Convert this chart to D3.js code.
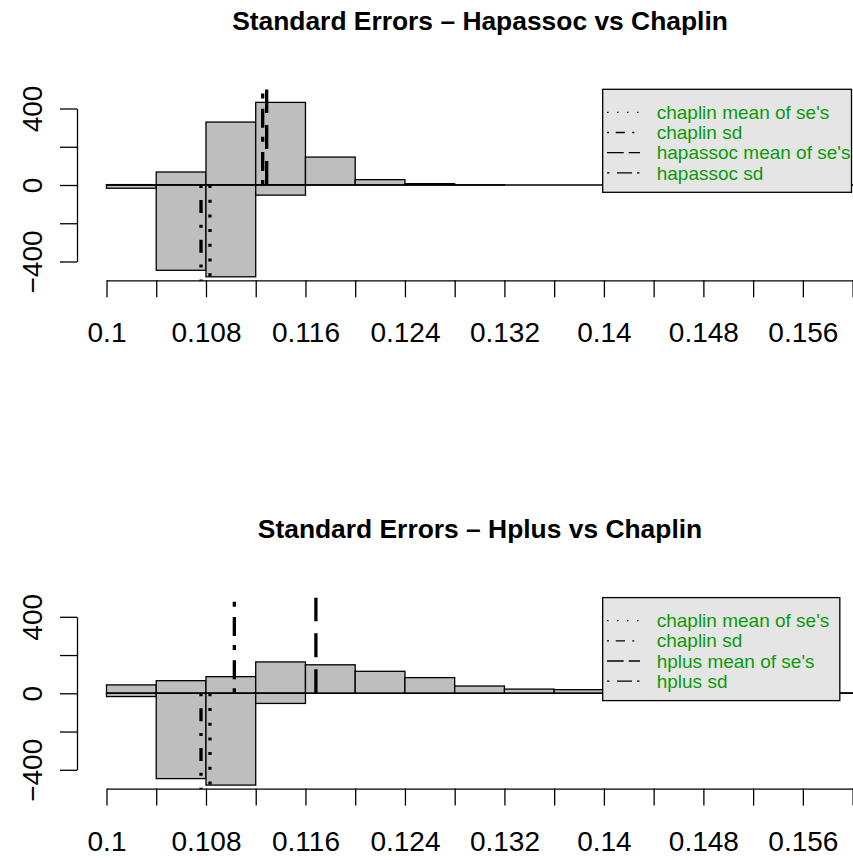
<!DOCTYPE html>
<html>
<head>
<meta charset="utf-8">
<script src="https://cdn.jsdelivr.net/npm/d3@7"></script>
<style>
  body { margin: 0; background: #fff; }
  text { font-family: "Liberation Sans", Arial, sans-serif; }
</style>
</head>
<body>
<div class="canvas"></div>
<script>
const dims = { width: 853, height: 860 };

// bin edges of the histograms (also the x ticks)
const breaks = [0.1, 0.104, 0.108, 0.112, 0.116, 0.12, 0.124, 0.128, 0.132, 0.136, 0.14, 0.144, 0.148, 0.152, 0.156, 0.16];

// counts per bin, chaplin is drawn downwards
const chaplinCounts = [17, 446, 480, 53, 0, 0, 0, 0, 0, 0, 0, 0, 0, 0, 0];
const hapassocCounts = [2, 68, 329, 432, 146, 28, 7, 1, 0, 0, 0, 0, 0, 0, 0];
const hplusCounts = [44, 66, 87, 164, 149, 115, 82, 38, 22, 19, 12, 8, 5, 3, 2];

// vertical reference lines: [mean of se's, sd]
const chaplinLines = [0.10832, 0.1076];
const hapassocLines = [0.11288, 0.11256];
const hplusLines = [0.11684, 0.11028];
const lineLength = 500;

const yTicks = [-400, -200, 0, 200, 400];
const yLabels = [-400, 0, 400];

const topLegend = ["chaplin mean of se's", "chaplin sd", "hapassoc mean of se's", "hapassoc sd"];
const bottomLegend = ["chaplin mean of se's", "chaplin sd", "hplus mean of se's", "hplus sd"];

const panels = [
  { title: "Standard Errors \u2013 Hapassoc vs Chaplin", counts: hapassocCounts, lines: hapassocLines, legend: topLegend, zero: 185 },
  { title: "Standard Errors \u2013 Hplus vs Chaplin", counts: hplusCounts, lines: hplusLines, legend: bottomLegend, zero: 693.3 },
];

// dash patterns: dotted, dotdash, dashed, twodash
const plotDash = ["3 11.7", "3 12 13 11.7", "24 12", "5 9 19 10.3"];
const keyDash = ["1.5 8.5", "2 6.7 9.3 7.3", "16.7 5", "2.5 7.5 15 5"];

const svg = d3
  .select(".canvas")
  .append("svg")
  .attr("width", dims.width)
  .attr("height", dims.height);

const x = d3.scaleLinear().domain([0.1, 0.16]).range([106.5, 852.6]);

panels.forEach((p) => {
  const y = d3.scaleLinear().domain([-400, 400]).range([p.zero + 76.5, p.zero - 76.5]);
  const g = svg.append("g");

  g.append("text")
    .attr("x", 480)
    .attr("y", p.zero - 155.5)
    .attr("text-anchor", "middle")
    .attr("font-size", 26.4)
    .attr("font-weight", "bold")
    .text(p.title);

  const bins = breaks.slice(0, -1).map((b, i) => ({
    x0: b,
    x1: breaks[i + 1],
    up: p.counts[i],
    down: chaplinCounts[i],
  }));

  // upper histogram
  g.append("g")
    .selectAll("rect")
    .data(bins)
    .join("rect")
    .attr("x", (d) => x(d.x0))
    .attr("width", (d) => x(d.x1) - x(d.x0))
    .attr("y", (d) => y(d.up))
    .attr("height", (d) => y(0) - y(d.up))
    .attr("fill", "#bebebe")
    .attr("stroke", "#000")
    .attr("stroke-width", 1.3);

  // mirrored chaplin histogram
  g.append("g")
    .selectAll("rect")
    .data(bins)
    .join("rect")
    .attr("x", (d) => x(d.x0))
    .attr("width", (d) => x(d.x1) - x(d.x0))
    .attr("y", y(0))
    .attr("height", (d) => y(-d.down) - y(0))
    .attr("fill", "#bebebe")
    .attr("stroke", "#000")
    .attr("stroke-width", 1.3);

  // empty bins still show as a line at zero
  g.append("line")
    .attr("x1", x(breaks[0]))
    .attr("x2", x(breaks[breaks.length - 1]) + 2)
    .attr("y1", y(0))
    .attr("y2", y(0))
    .attr("stroke", "#000")
    .attr("stroke-width", 1.5);

  const vlines = [
    { v: chaplinLines[0], end: -lineLength, dash: plotDash[0] },
    { v: chaplinLines[1], end: -lineLength, dash: plotDash[1] },
    { v: p.lines[0], end: lineLength, dash: plotDash[2] },
    { v: p.lines[1], end: lineLength, dash: plotDash[3] },
  ];

  g.append("g")
    .selectAll("line")
    .data(vlines)
    .join("line")
    .attr("x1", (d) => x(d.v))
    .attr("x2", (d) => x(d.v))
    .attr("y1", y(0))
    .attr("y2", (d) => y(d.end))
    .attr("stroke", "#000")
    .attr("stroke-width", 3.3)
    .attr("stroke-dasharray", (d) => d.dash);

  // x axis
  const xAxis = g
    .append("g")
    .attr("transform", `translate(0,${p.zero + 95.3})`)
    .call(
      d3
        .axisBottom(x)
        .tickValues(breaks)
        .tickSize(17)
        .tickSizeOuter(0)
        .tickFormat((d, i) => (i % 2 === 0 ? d3.format("~g")(d) : ""))
    );
  xAxis.attr("font-family", null).attr("font-size", 28);
  xAxis.selectAll("path, line").attr("stroke-width", 1.3);
  xAxis.selectAll("text").attr("y", 62).attr("dy", null).attr("fill", "#000");

  // y axis
  const yAxis = g
    .append("g")
    .attr("transform", "translate(77,0)")
    .call(
      d3
        .axisLeft(y)
        .tickValues(yTicks)
        .tickSize(17)
        .tickSizeOuter(0)
        .tickFormat((d) => (yLabels.includes(d) ? d3.format("")(d) : ""))
    );
  yAxis.attr("font-family", null).attr("font-size", 28);
  yAxis.selectAll("path, line").attr("stroke-width", 1.3);
  yAxis
    .selectAll("text")
    .attr("x", null)
    .attr("dy", null)
    .attr("text-anchor", "middle")
    .attr("transform", "translate(-35,0) rotate(-90)")
    .attr("fill", "#000");

  // legend
  const top = p.zero - 95.7;
  const leg = g.append("g");
  const box = leg
    .append("rect")
    .attr("x", 602.7)
    .attr("y", top)
    .attr("height", 103)
    .attr("fill", "#e5e5e5")
    .attr("stroke", "#000")
    .attr("stroke-width", 1.3);

  const rows = leg
    .selectAll("g")
    .data(p.legend)
    .join("g")
    .attr("transform", (d, i) => `translate(0,${top + 23 + i * 20.2})`);

  rows
    .append("line")
    .attr("x1", 607)
    .attr("x2", 640)
    .attr("stroke", "#000")
    .attr("stroke-width", 1.3)
    .attr("stroke-dasharray", (d, i) => keyDash[i]);

  const labels = rows
    .append("text")
    .attr("x", 656.7)
    .attr("dy", "0.35em")
    .attr("font-size", 19)
    .attr("fill", "#0a9a0a")
    .text((d) => d);

  const widest = d3.max(labels.nodes(), (n) => n.getComputedTextLength());
  box.attr("width", Math.min(656.7 + widest + 10.5, 851.5) - 602.7);
});
</script>
</body>
</html>
